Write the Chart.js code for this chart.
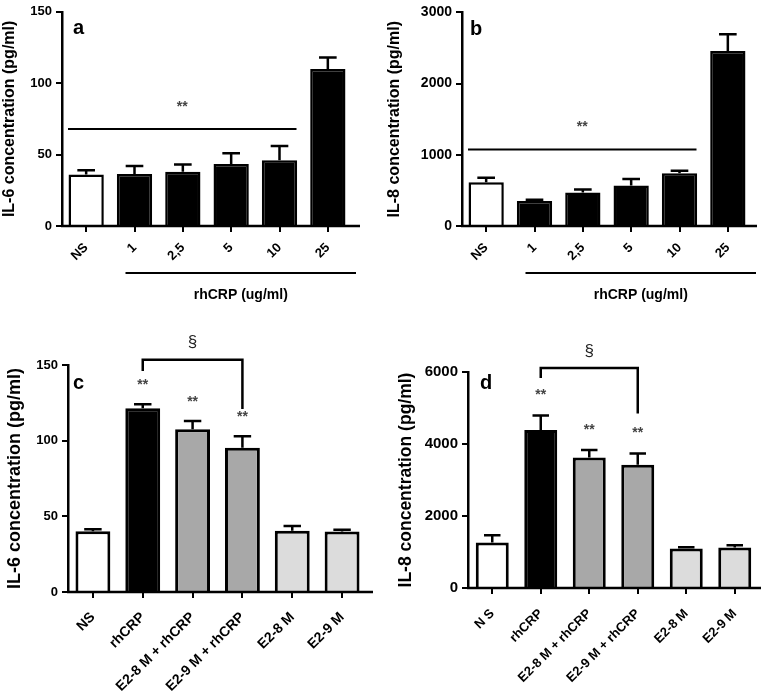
<!DOCTYPE html>
<html>
<head>
<meta charset="utf-8">
<script src="https://cdn.jsdelivr.net/npm/chart.js@4.4.1/dist/chart.umd.min.js"></script>
<style>
  body { margin: 0; background: #fff; }
  .panel { position: absolute; }
</style>
</head>
<body>
<div class="panel" style="left:0;top:0"><canvas id="chartA" width="380" height="320"></canvas></div>
<div class="panel" style="left:380px;top:0"><canvas id="chartB" width="381" height="320"></canvas></div>
<div class="panel" style="left:0;top:330px"><canvas id="chartC" width="380" height="363"></canvas></div>
<div class="panel" style="left:380px;top:330px"><canvas id="chartD" width="381" height="363"></canvas></div>
<script>
// dose response (panels a, b)
const doseLabels = ["NS", "1", "2,5", "5", "10", "25"];
const il6DoseMeans = [36, 36.5, 38, 43.5, 46, 110];
const il6DoseErrors = [3, 5.5, 5, 7.5, 10, 8];
const il8DoseMeans = [616, 350, 469, 570, 740, 2458];
const il8DoseErrors = [60, 18, 45, 90, 37, 235];
const doseColors = ["#ffffff", "#000000", "#000000", "#000000", "#000000", "#000000"];

// estradiol treatment (panels c, d)
const treatLabelsC = ["NS", "rhCRP", "E2-8 M + rhCRP", "E2-9 M + rhCRP", "E2-8 M", "E2-9 M"];
const treatLabelsD = ["N S", "rhCRP", "E2-8 M + rhCRP", "E2-9 M + rhCRP", "E2-8 M", "E2-9 M"];
const il6TreatMeans = [40.1, 121.4, 107.5, 95.4, 40.5, 39.9];
const il6TreatErrors = [1.4, 2.6, 5.5, 7.6, 3.1, 1.3];
const il8TreatMeans = [1263, 4392, 3627, 3423, 1097, 1125];
const il8TreatErrors = [204, 398, 203, 315, 38, 65];
const treatColors = ["#ffffff", "#000000", "#a8a8a8", "#a8a8a8", "#dcdcdc", "#dcdcdc"];

const FONT = "'Liberation Sans', Arial, sans-serif";

const panelDecor = {
  id: "panelDecor",
  afterDatasetsDraw(chart, args, opts) {
    const { ctx, chartArea: area, scales: { y } } = chart;
    const meta = chart.getDatasetMeta(0);
    const means = chart.data.datasets[0].data;
    ctx.save();
    ctx.strokeStyle = "#000";
    ctx.lineWidth = 2.5;

    // x axis line, a bit longer than the plot area
    ctx.beginPath();
    ctx.moveTo(area.left - 1, area.bottom);
    ctx.lineTo(area.right + opts.axisExtend, area.bottom);
    ctx.stroke();

    // upper error bars
    const errTops = opts.errors.map((err, i) => y.getPixelForValue(means[i] + err));
    opts.errors.forEach((err, i) => {
      const bar = meta.data[i];
      const half = bar.width / 4;
      ctx.beginPath();
      ctx.moveTo(bar.x, bar.y);
      ctx.lineTo(bar.x, errTops[i]);
      ctx.moveTo(bar.x - half, errTops[i]);
      ctx.lineTo(bar.x + half, errTops[i]);
      ctx.stroke();
    });
    ctx.lineWidth = 2;

    ctx.textAlign = "center";
    ctx.textBaseline = "middle";

    // significance stars over single bars
    ctx.fillStyle = "#444";
    ctx.font = "bold 14px " + FONT;
    (opts.stars || []).forEach((i) => {
      ctx.fillText("**", meta.data[i].x, errTops[i] - opts.starGap);
    });

    // horizontal significance line
    if (opts.sigLine) {
      const ly = y.getPixelForValue(opts.sigLine.value);
      const x0 = area.left + 6;
      const x1 = meta.data[opts.sigLine.endIndex].x + 17;
      ctx.beginPath();
      ctx.moveTo(x0, ly);
      ctx.lineTo(x1, ly);
      ctx.stroke();
      ctx.fillText("**", (x0 + x1) / 2, ly - 22);
    }

    // group underline below the x labels
    if (opts.group) {
      const gy = area.bottom + 47;
      const x0 = meta.data[opts.group.fromIndex].x - 9;
      const x1 = area.right + 4;
      ctx.beginPath();
      ctx.moveTo(x0, gy);
      ctx.lineTo(x1, gy);
      ctx.stroke();
      ctx.fillStyle = "#000";
      ctx.font = "bold 14px " + FONT;
      ctx.fillText(opts.group.text, (x0 + x1) / 2, gy + 22);
    }

    // bracket between two bars
    if (opts.bracket) {
      const b = opts.bracket;
      const xa = meta.data[b.from].x;
      const xb = meta.data[b.to].x;
      const top = y.getPixelForValue(b.top);
      ctx.lineWidth = 2.5;
      ctx.beginPath();
      ctx.moveTo(xa, y.getPixelForValue(b.leftEnd));
      ctx.lineTo(xa, top);
      ctx.lineTo(xb, top);
      ctx.lineTo(xb, y.getPixelForValue(b.rightEnd));
      ctx.stroke();
      ctx.fillStyle = "#222";
      ctx.font = "17px " + FONT;
      ctx.fillText("§", (xa + xb) / 2, top - 17);
    }

    // panel letter
    ctx.fillStyle = "#000";
    ctx.textAlign = "left";
    ctx.font = "bold 20px " + FONT;
    ctx.fillText(opts.letter.text, area.left + opts.letter.dx, area.top + opts.letter.dy);
    ctx.restore();
  },
};

function makePanel(id, cfg) {
  const canvas = document.getElementById(id);
  const H = canvas.height;
  return new Chart(canvas, {
    type: "bar",
    data: {
      labels: cfg.labels,
      datasets: [{
        data: cfg.means,
        backgroundColor: cfg.colors,
        borderColor: "#000",
        borderWidth: cfg.barBorder,
        borderSkipped: "start",
        barPercentage: cfg.barPct,
        categoryPercentage: 1,
      }],
    },
    options: {
      responsive: false,
      animation: false,
      devicePixelRatio: 1,
      layout: {
        padding: { left: 0, top: cfg.top, right: canvas.width - cfg.right, bottom: H - cfg.bottom - cfg.xHeight },
      },
      plugins: {
        legend: { display: false },
        tooltip: { enabled: false },
        panelDecor: cfg.decor,
      },
      scales: {
        x: {
          afterFit: (scale) => { scale.height = cfg.xHeight; },
          border: { display: false },
          grid: { offset: false, drawOnChartArea: false, drawTicks: true, tickLength: 6, color: "#000", lineWidth: 2 },
          ticks: {
            color: "#000",
            minRotation: 45,
            maxRotation: 45,
            autoSkip: false,
            padding: cfg.xPad,
            font: { family: FONT, size: cfg.xFont, weight: "bold" },
          },
        },
        y: {
          min: 0,
          max: cfg.yMax,
          afterFit: (scale) => { scale.width = cfg.left; },
          border: { display: true, color: "#000", width: 2.5 },
          grid: { drawOnChartArea: false, drawTicks: true, tickLength: 6, color: "#000", lineWidth: 2 },
          ticks: {
            stepSize: cfg.yStep,
            color: "#000",
            padding: 4,
            callback: (v) => String(v),
            font: { family: FONT, size: cfg.yFont, weight: "bold" },
          },
          title: {
            display: true,
            text: cfg.yTitle,
            color: "#000",
            padding: { top: cfg.titlePad, bottom: 0 },
            font: { family: FONT, size: cfg.titleFont, weight: "bold" },
          },
        },
      },
    },
    plugins: [panelDecor],
  });
}

makePanel("chartA", {
  labels: doseLabels, means: il6DoseMeans, colors: doseColors, barPct: 0.73, barBorder: 2.5,
  left: 62, right: 352, top: 8, bottom: 226, xHeight: 45,
  yMax: 150, yStep: 50, yFont: 13, yTitle: "IL-6 concentration (pg/ml)", titleFont: 16, titlePad: 0,
  xFont: 13, xPad: 8,
  decor: {
    errors: il6DoseErrors, axisExtend: 8, starGap: 18,
    sigLine: { value: 68, endIndex: 4 },
    group: { fromIndex: 1, text: "rhCRP (ug/ml)" },
    letter: { text: "a", dx: 11, dy: 17 },
  },
});

makePanel("chartB", {
  labels: doseLabels, means: il8DoseMeans, colors: doseColors, barPct: 0.73, barBorder: 2.5,
  left: 82, right: 372, top: 8, bottom: 226, xHeight: 45,
  yMax: 3000, yStep: 1000, yFont: 14, yTitle: "IL-8 concentration (pg/ml)", titleFont: 16, titlePad: 5,
  xFont: 13, xPad: 8,
  decor: {
    errors: il8DoseErrors, axisExtend: 5, starGap: 18,
    sigLine: { value: 1075, endIndex: 4 },
    group: { fromIndex: 1, text: "rhCRP (ug/ml)" },
    letter: { text: "b", dx: 8, dy: 17 },
  },
});

makePanel("chartC", {
  labels: treatLabelsC, means: il6TreatMeans, colors: treatColors, barPct: 0.7, barBorder: 3,
  left: 68, right: 367, top: 35, bottom: 262, xHeight: 101,
  yMax: 150, yStep: 50, yFont: 13, yTitle: "IL-6 concentration (pg/ml)", titleFont: 18, titlePad: 4,
  xFont: 14, xPad: 11,
  decor: {
    errors: il6TreatErrors, axisExtend: 6, starGap: 19,
    stars: [1, 2, 3],
    bracket: { from: 1, to: 3, top: 153.5, leftEnd: 146, rightEnd: 121 },
    letter: { text: "c", dx: 5, dy: 18 },
  },
});

makePanel("chartD", {
  labels: treatLabelsD, means: il8TreatMeans, colors: treatColors, barPct: 0.68, barBorder: 3,
  left: 88, right: 379, top: 42, bottom: 258, xHeight: 105,
  yMax: 6000, yStep: 2000, yFont: 15, yTitle: "IL-8 concentration (pg/ml)", titleFont: 17.5, titlePad: 16,
  xFont: 13, xPad: 12,
  decor: {
    errors: il8TreatErrors, axisExtend: 2, starGap: 20,
    stars: [1, 2, 3],
    bracket: { from: 1, to: 3, top: 6110, leftEnd: 5834, rightEnd: 4847 },
    letter: { text: "d", dx: 12, dy: 11 },
  },
});
</script>
</body>
</html>
